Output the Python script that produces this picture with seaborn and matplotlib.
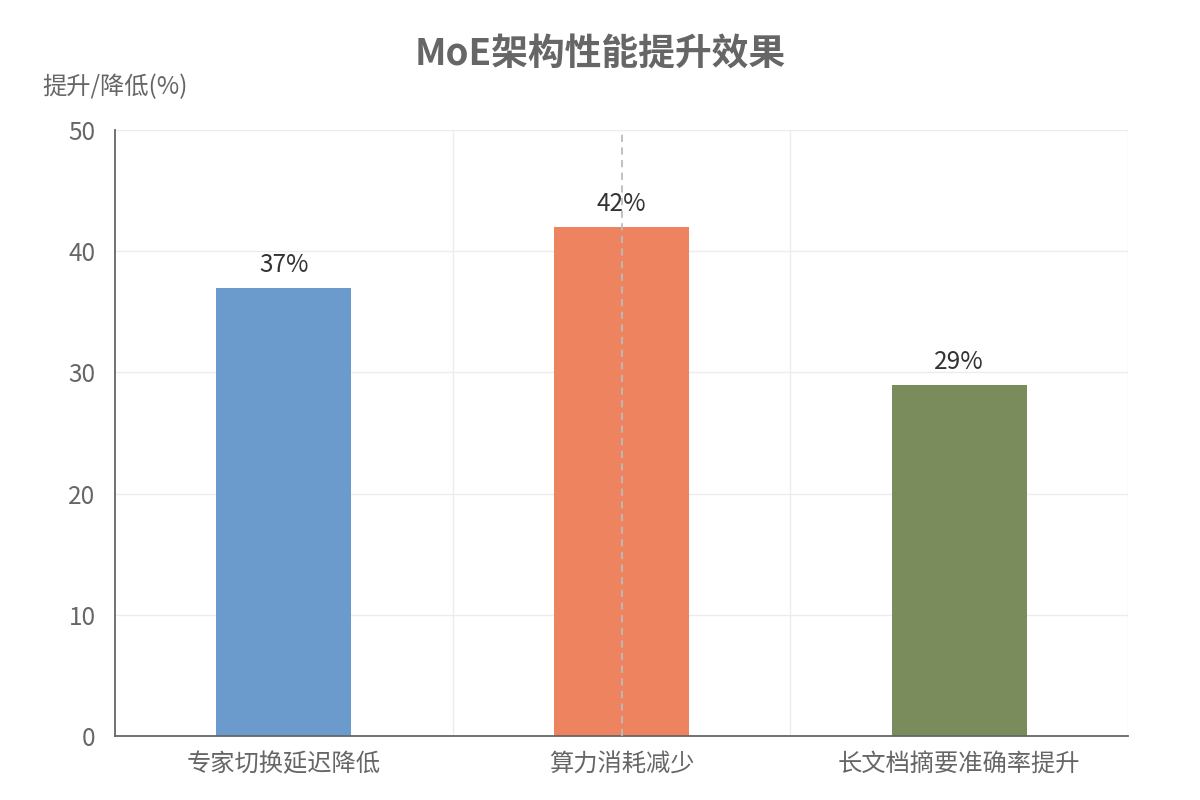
import matplotlib
matplotlib.use("Agg")
import matplotlib.pyplot as plt
import seaborn as sns
import pandas as pd
from matplotlib.ticker import FixedLocator

categories = ["专家切换延迟降低", "算力消耗减少", "长文档摘要准确率提升"]
values = [37, 42, 29]
colors = ["#6a9bcc", "#ee8360", "#7a8c5c"]
y_ticks = [0, 10, 20, 30, 40, 50]
title = "MoE架构性能提升效果"
y_label = "提升/降低(%)"
pointer_category = "算力消耗减少"

sns.set_theme(style="white")
plt.rcParams['font.family'] = ['Noto Sans CJK SC', 'DejaVu Sans']

df = pd.DataFrame({"category": categories, "value": values})

fig = plt.figure(figsize=(12, 8), dpi=100)
ax = fig.add_axes([115/1200, 64/800, (1128-115)/1200, (736-130)/800])

sns.barplot(data=df, x="category", y="value", hue="category", palette=colors,
            width=0.4, legend=False, ax=ax, saturation=1, linewidth=0)

ax.set_xlim(-0.5, len(categories) - 0.5)
ax.set_ylim(0, 50)
ax.set_yticks(y_ticks)
ax.xaxis.set_minor_locator(FixedLocator([i + 0.5 for i in range(len(categories))]))
ax.grid(True, axis="y", which="major", color="#ececec", linewidth=1)
ax.grid(True, axis="x", which="minor", color="#ececec", linewidth=1)
ax.grid(False, axis="x", which="major")
ax.set_axisbelow(True)

for s in ["top", "right"]:
    ax.spines[s].set_visible(False)
for s in ["left", "bottom"]:
    ax.spines[s].set_color("#666666")
    ax.spines[s].set_linewidth(1.3)

ax.tick_params(axis="both", which="both", length=0, labelsize=17.5, colors="#666666", pad=11)
ax.tick_params(axis="y", pad=14)
ax.set_xlabel("")
ax.set_ylabel("")

for i, v in enumerate(values):
    ax.text(i, v + 0.8, f"{v}%", ha="center", va="bottom", fontsize=17.5, color="#333333")

ax.axvline(categories.index(pointer_category), color="#bbbbbb", linestyle=(0, (4, 3)), linewidth=1.3, zorder=3)

fig.text(0.5, 1 - 55/800, title, ha="center", va="center", fontsize=26.5, fontweight="bold", color="#666666")
fig.text(42/1200, 1 - 87/800, y_label, ha="left", va="center", fontsize=17.5, color="#666666")

fig.savefig("out.png", dpi=100)
